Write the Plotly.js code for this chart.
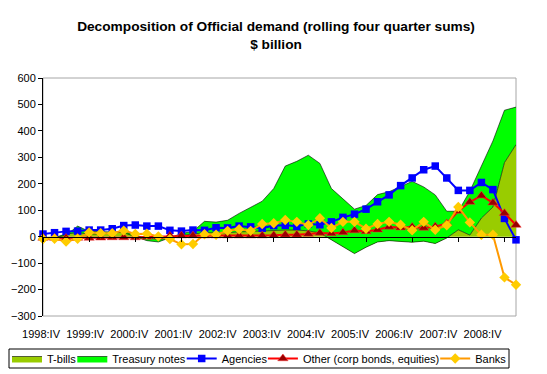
<!DOCTYPE html>
<html>
<head>
<meta charset="utf-8">
<script src="https://cdn.plot.ly/plotly-3.0.1.min.js"></script>
<style>html,body{margin:0;padding:0;background:#fff;}#chart{width:547px;height:374px;}</style>
</head>
<body>
<div id="chart"></div>
<script>
const quarters = ['1998:IV','1999:I','1999:II','1999:III','1999:IV','2000:I','2000:II','2000:III','2000:IV',
  '2001:I','2001:II','2001:III','2001:IV','2002:I','2002:II','2002:III','2002:IV','2003:I','2003:II','2003:III','2003:IV',
  '2004:I','2004:II','2004:III','2004:IV','2005:I','2005:II','2005:III','2005:IV','2006:I','2006:II','2006:III','2006:IV',
  '2007:I','2007:II','2007:III','2007:IV','2008:I','2008:II','2008:III','2008:IV','2009:I'];
const tickLabels = ['1998:IV','1999:IV','2000:IV','2001:IV','2002:IV','2003:IV','2004:IV','2005:IV','2006:IV','2007:IV','2008:IV'];

const tBills = [-5,-3,10,15,10,10,15,20,5,-5,-10,-5,5,10,15,15,15,18,20,20,22,25,25,22,14,-11,-39,-64,-40,-20,-15,-17,-21,-17,-26,-5,26,6,70,112,280,348];
const treasuryNotes = [-3,-2,-5,25,10,10,3,-5,-5,-10,-10,0,7,10,43,40,47,70,92,114,160,242,260,286,263,193,182,168,158,179,185,207,230,205,184,101,70,166,196,250,198,142];
const agencies = [10,15,20,21,25,25,30,42,44,40,40,24,21,25,24,34,33,40,37,32,42,43,39,48,45,56,73,85,104,132,158,193,222,253,267,222,175,175,205,178,69,-12];
const other = [-5,-5,-5,-5,-5,-4,-3,-3,-3,-1,0,3,4,4,4,4,4,4,4,4,5,7,7,10,14,12,16,23,20,26,37,34,37,33,38,50,97,131,155,128,89,44];
const banks = [-9,-8,-18,-8,16,13,13,23,10,11,1,-9,-29,-28,9,7,22,28,22,48,51,63,56,44,70,33,56,56,30,48,56,45,24,56,26,43,112,54,7,7,-154,-182];

const FONT = 'Liberation Sans, Arial, sans-serif';

const traces = [
  {name:'T-bills', x:quarters, y:tBills, type:'scatter', mode:'lines', stackgroup:'g',
   fillcolor:'#99CC00', line:{color:'#000000', width:0.6}, legend:'legend'},
  {name:'Treasury notes', x:quarters, y:treasuryNotes, type:'scatter', mode:'lines', stackgroup:'g',
   fillcolor:'#00FF00', line:{color:'#000000', width:0.6}, legend:'legend2'},
  {name:'Agencies', x:quarters, y:agencies, type:'scatter', mode:'lines+markers', cliponaxis:false,
   line:{color:'#0000FF', width:2}, marker:{symbol:'square', size:7.5, color:'#0000FF'}, legend:'legend3'},
  {name:'Other (corp bonds, equities)', x:quarters, y:other, type:'scatter', mode:'lines+markers', cliponaxis:false,
   line:{color:'#FF0000', width:2}, marker:{symbol:'triangle-up', size:9, color:'#990000', line:{color:'#FF3333', width:0.5}}, legend:'legend4'},
  {name:'Banks', x:quarters, y:banks, type:'scatter', mode:'lines+markers', cliponaxis:false,
   line:{color:'#FF9900', width:2}, marker:{symbol:'diamond', size:8, color:'#FFCC00'}, legend:'legend5'},
  {x:[], y:[], xaxis:'x2', yaxis:'y', type:'scatter', mode:'markers', showlegend:false, hoverinfo:'skip'}
];

const W = 507; // paper width in px (547 - margins)
const H = 238;
function px2x(p){ return (p - 20) / W; }
function py2y(p){ return (316 - p) / H; }

function leg(xpx){
  return {orientation:'h', x:px2x(xpx), xanchor:'left', y:py2y(358.5), yanchor:'middle',
    bgcolor:'rgba(0,0,0,0)', borderwidth:0, font:{family:FONT, size:11, color:'#000'}};
}

const layout = {
  width:547, height:374,
  margin:{l:20, r:20, t:78, b:58, pad:0, autoexpand:false},
  paper_bgcolor:'#ffffff', plot_bgcolor:'rgba(0,0,0,0)',
  font:{family:FONT, size:11, color:'#000'},
  title:{text:'<b>Decomposition of Official demand (rolling four quarter sums)</b><br><b>$ billion</b>',
    font:{family:FONT, size:13.7, color:'#000'}, x:px2x(276), xref:'paper', xanchor:'center',
    y:1 - 31/374, yref:'container', yanchor:'top', automargin:false},
  xaxis:{type:'category', range:[0,41], domain:[px2x(43), px2x(516)], anchor:'free', position:1/3,
    showline:true, linecolor:'#000', linewidth:1, ticks:'outside', ticklen:4, tickcolor:'#000',
    tickvals:tickLabels, showticklabels:false, showgrid:false, zeroline:false, fixedrange:true},
  xaxis2:{type:'linear', domain:[0,1], range:[-0.4757, 11.008], anchor:'free', position:0,
    tickvals:[0,1,2,3,4,5,6,7,8,9,10], ticktext:tickLabels, showline:false, showgrid:false, zeroline:false,
    ticks:'outside', ticklen:8, tickcolor:'rgba(0,0,0,0)', tickfont:{family:FONT, size:11, color:'#000'}, fixedrange:true},
  yaxis:{range:[-300,600], dtick:100, tick0:0, domain:[0,1], anchor:'x', showgrid:false, zeroline:false,
    showline:true, linecolor:'#000', linewidth:1, ticks:'outside', ticklen:4, tickcolor:'#000',
    tickfont:{family:FONT, size:11, color:'#000'}, fixedrange:true},
  legend:leg(7), legend2:leg(72.3), legend3:leg(181.7), legend4:leg(262.9), legend5:leg(435.2),
  shapes:[
    {type:'rect', xref:'x domain', yref:'y domain', x0:0, x1:1, y0:0, y1:1, line:{color:'#A6A6A6', width:1}, layer:'below'},
    {type:'rect', xref:'paper', yref:'paper', x0:px2x(9), x1:px2x(509), y0:py2y(368), y1:py2y(349), line:{color:'#000', width:1}, fillcolor:'rgba(0,0,0,0)', layer:'above'}
  ],
  showlegend:true
};

Plotly.newPlot('chart', traces, layout, {displayModeBar:false, staticPlot:true});
</script>
</body>
</html>
